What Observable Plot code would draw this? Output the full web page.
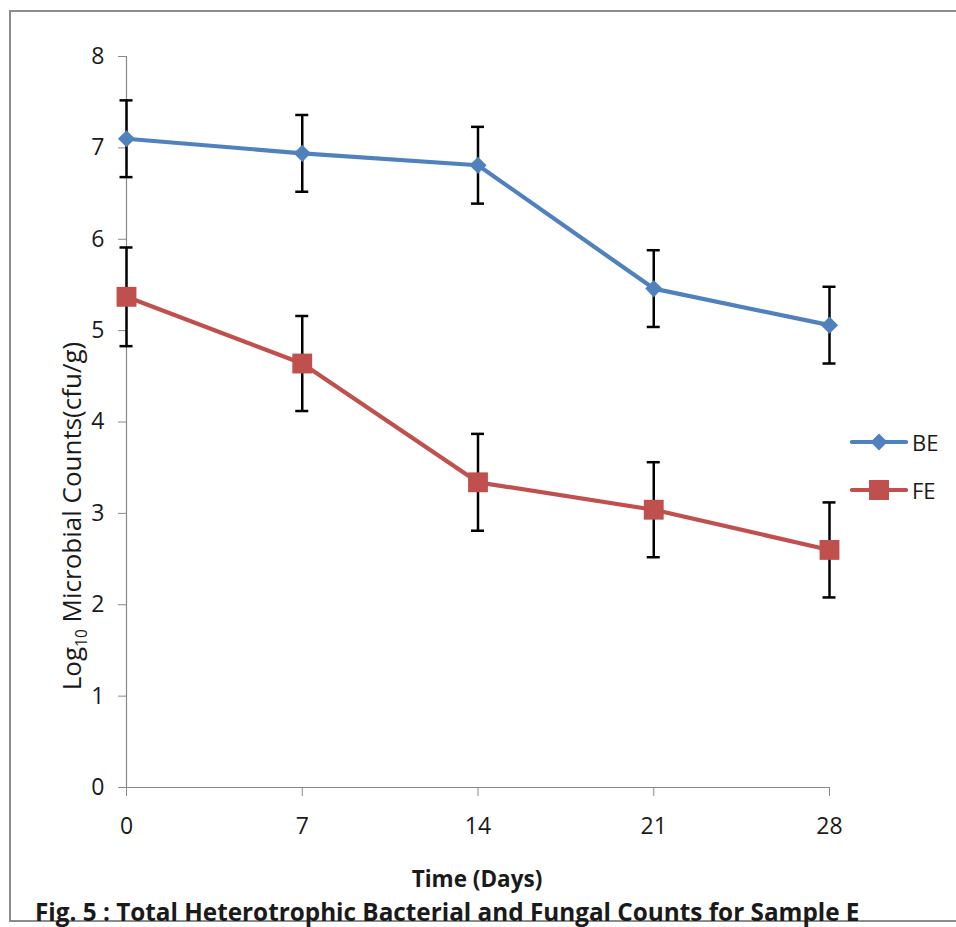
<!DOCTYPE html>
<html>
<head>
<meta charset="utf-8">
<script src="https://cdn.jsdelivr.net/npm/d3@7"></script>
<script src="https://cdn.jsdelivr.net/npm/@observablehq/plot@0.6"></script>
<style>
  body { margin: 0; background: #fff; font-family: "Open Sans", sans-serif; color: #1a1a1a; }
  #wrap { position: relative; width: 956px; height: 927px; overflow: hidden; background: #fff; }
  #chart { position: absolute; left: 0; top: 0; }
  #frame { position: absolute; left: 9px; top: 10px; width: 980px; height: 912px; border: 2px solid #8c8c8c; box-sizing: border-box; pointer-events: none; }
  #ylabel { position: absolute; left: 74px; top: 516px; transform: translate(-50%, -50%) rotate(-90deg); white-space: nowrap; font-size: 26px; line-height: 1; }
  #ylabel sub { font-size: 15.5px; }
  #xlabel { position: absolute; left: 477px; top: 864px; transform: translateX(-50%); font-weight: bold; font-size: 22.5px; line-height: 1.362; white-space: nowrap; }
  #caption { position: absolute; left: 35px; top: 895px; font-weight: bold; font-size: 24.3px; line-height: 1.362; white-space: nowrap; }
  #legend { position: absolute; left: 850px; top: 418px; }
  .lg { display: flex; align-items: center; height: 48px; font-size: 22px; }
  .lg svg { margin-right: 4px; }
</style>
</head>
<body>
<div id="wrap">
  <div id="chart"></div>
  <div id="frame"></div>
  <div id="ylabel">Log<sub>10</sub> Microbial Counts(cfu/g)</div>
  <div id="xlabel">Time (Days)</div>
  <div id="caption">Fig. 5 : Total Heterotrophic Bacterial and Fungal Counts for Sample E</div>
  <div id="legend"></div>
</div>
<script>
// ---- data ----
const days = [0, 7, 14, 21, 28];
const seriesNames = ["BE", "FE"];
const beMeans = [7.10, 6.94, 6.81, 5.46, 5.06];
const beErrors = [0.42, 0.42, 0.42, 0.42, 0.42];
const feMeans = [5.37, 4.64, 3.34, 3.04, 2.60];
const feErrors = [0.54, 0.52, 0.53, 0.52, 0.52];
const xTicks = [0, 7, 14, 21, 28];
const yTicks = [0, 1, 2, 3, 4, 5, 6, 7, 8];
const seriesColors = ["#4F81BD", "#C0504D"];
const seriesSymbols = ["diamond2", "square"];

const rows = [];
days.forEach((d, i) => {
  rows.push({ day: d, series: "BE", mean: beMeans[i], err: beErrors[i] });
  rows.push({ day: d, series: "FE", mean: feMeans[i], err: feErrors[i] });
});
const beRows = rows.filter(r => r.series === "BE");
const feRows = rows.filter(r => r.series === "FE");

const chart = Plot.plot({
  width: 956,
  height: 927,
  marginTop: 56,
  marginBottom: 140,
  marginLeft: 126,
  marginRight: 127,
  style: { background: "transparent", fontFamily: "Open Sans, sans-serif", fontSize: "23px", overflow: "visible" },
  x: { domain: [0, 28] },
  y: { domain: [0, 8] },
  color: { domain: seriesNames, range: seriesColors },
  marks: [
    Plot.ruleX([0], { stroke: "#888", strokeWidth: 1.2 }),
    Plot.ruleY([0], { stroke: "#888", strokeWidth: 1.2 }),
    Plot.axisY({ ticks: yTicks, tickSize: 8, tickPadding: 14, stroke: "#888", color: "#1a1a1a", fontSize: 23, label: null, tickFormat: d => String(d) }),
    Plot.axisX({ ticks: xTicks, tickSize: 9, tickPadding: 21, stroke: "#888", color: "#1a1a1a", fontSize: 23, label: null, tickFormat: d => String(d) }),
    Plot.line(rows, { x: "day", y: "mean", z: "series", stroke: "series", strokeWidth: 4.2 }),
    Plot.ruleX(rows, { x: "day", y1: d => d.mean - d.err, y2: d => d.mean + d.err, stroke: "#000", strokeWidth: 2.5 }),
    Plot.ruleY(rows, { y: d => d.mean + d.err, x1: "day", x2: "day", insetLeft: -6.5, insetRight: -6.5, stroke: "#000", strokeWidth: 2.5 }),
    Plot.ruleY(rows, { y: d => d.mean - d.err, x1: "day", x2: "day", insetLeft: -6.5, insetRight: -6.5, stroke: "#000", strokeWidth: 2.5 }),
    Plot.dot(beRows, { x: "day", y: "mean", symbol: () => seriesSymbols[0], fill: "series", r: 7.7, stroke: "none" }),
    Plot.dot(feRows, { x: "day", y: "mean", symbol: () => seriesSymbols[1], fill: "series", r: 11.2, stroke: "none" })
  ],
  symbol: { domain: seriesSymbols, range: seriesSymbols }
});
document.getElementById("chart").appendChild(chart);

// legend
const legend = document.getElementById("legend");
seriesNames.forEach((name, i) => {
  const item = document.createElement("div");
  item.className = "lg";
  const marker = i === 0
    ? `<path d="M29,-8.5L37.5,0L29,8.5L20.5,0Z" fill="${seriesColors[i]}"/>`
    : `<rect x="19" y="-10" width="20" height="20" fill="${seriesColors[i]}"/>`;
  item.innerHTML = `<svg width="58" height="24" viewBox="0 -12 58 24"><line x1="2" x2="56" y1="0" y2="0" stroke="${seriesColors[i]}" stroke-width="4.2" stroke-linecap="round"/>${marker}</svg><span>${name}</span>`;
  legend.appendChild(item);
});
</script>
</body>
</html>
